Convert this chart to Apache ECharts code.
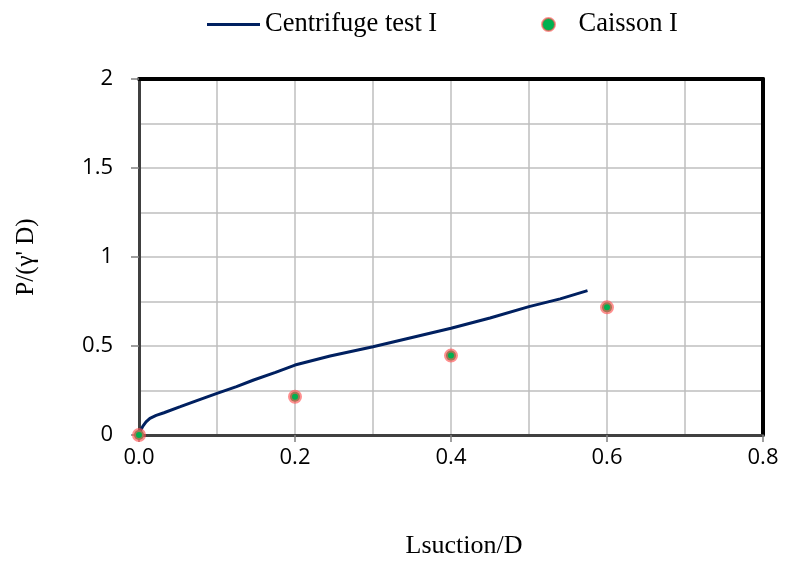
<!DOCTYPE html>
<html><head><meta charset="utf-8">
<script src="https://cdn.jsdelivr.net/npm/echarts@6/dist/echarts.min.js"></script>
<style>html,body{margin:0;padding:0;background:#fff}#c{width:785px;height:563px}</style>
</head><body><div id="c"></div>
<script>
const curveX = [0, 0.002, 0.005, 0.009, 0.014, 0.022, 0.032, 0.053, 0.075, 0.1, 0.125, 0.147, 0.175, 0.2, 0.245, 0.3, 0.35, 0.4, 0.45, 0.5, 0.54, 0.575];
const curveY = [0, 0.025, 0.05, 0.074, 0.094, 0.11, 0.125, 0.159, 0.195, 0.234, 0.272, 0.309, 0.352, 0.393, 0.444, 0.496, 0.548, 0.6, 0.657, 0.721, 0.765, 0.811];
const caissonX = [0, 0.2, 0.4, 0.6];
const caissonY = [0, 0.215, 0.446, 0.717];

const chart = echarts.init(document.getElementById('c'));
const tickFont = {fontFamily: 'Open Sans', fontSize: 22, color: '#000'};
const serif = 'Liberation Serif';
chart.setOption({
  animation: false,
  grid: {left: 139, right: 22, top: 79, bottom: 128, outerBoundsMode: 'none', containLabel: false},
  legend: [
    {data: [{name: 'Centrifuge test I', icon: 'rect'}], left: 202, top: 6, itemWidth: 53, itemHeight: 3,
     textStyle: {fontFamily: serif, fontSize: 26.5, color: '#000'}},
    {data: ['Caisson I'], left: 536, top: 6, itemWidth: 50, itemHeight: 13,
     textStyle: {fontFamily: serif, fontSize: 26.5, color: '#000'}}
  ],
  xAxis: [{
    type: 'value', min: 0, max: 0.8, interval: 0.2,
    name: 'Lsuction/D', nameLocation: 'middle', nameGap: 98,
    nameTextStyle: {fontFamily: serif, fontSize: 26, color: '#000', padding: [0,0,0,26]},
    axisLine: {show: true, onZero: false, lineStyle: {color: '#404040', width: 3}},
    axisTick: {show: true, length: 7, lineStyle: {color: '#808080', width: 1.5}},
    axisLabel: Object.assign({formatter: v => v.toFixed(1), margin: 12}, tickFont),
    splitLine: {show: true, lineStyle: {color: '#bfbfbf', width: 1.5}},
    minorTick: {show: false, splitNumber: 2},
    minorSplitLine: {show: true, lineStyle: {color: '#bfbfbf', width: 1.5}}
  }, {
    type: 'value', position: 'top', min: 0, max: 0.8,
    axisLine: {show: true, onZero: false, lineStyle: {color: '#000', width: 4}},
    axisTick: {show: false}, axisLabel: {show: false}, splitLine: {show: false}
  }],
  yAxis: [{
    type: 'value', min: 0, max: 2, interval: 0.5,
    name: "P/(γ' D)", nameLocation: 'middle', nameGap: 100,
    nameTextStyle: {fontFamily: serif, fontSize: 25, color: '#000'},
    axisLine: {show: true, onZero: false, lineStyle: {color: '#404040', width: 3}},
    axisTick: {show: true, length: 8, lineStyle: {color: '#808080', width: 1.5}},
    axisLabel: Object.assign({formatter: v => String(v), margin: 26}, tickFont),
    splitLine: {show: true, lineStyle: {color: '#bfbfbf', width: 1.5}},
    minorTick: {show: false, splitNumber: 2},
    minorSplitLine: {show: true, lineStyle: {color: '#bfbfbf', width: 1.5}}
  }, {
    type: 'value', position: 'right', min: 0, max: 2,
    axisLine: {show: true, onZero: false, lineStyle: {color: '#000', width: 4}},
    axisTick: {show: false}, axisLabel: {show: false}, splitLine: {show: false}
  }],
  series: [{
    name: 'Centrifuge test I', type: 'line', symbol: 'none', smooth: false,
    lineStyle: {color: '#002060', width: 3}, itemStyle: {color: '#002060'},
    data: curveX.map((x, i) => [x, curveY[i]]), z: 3
  }, {
    name: 'Caisson I', type: 'scatter', symbolSize: 10,
    itemStyle: {color: '#00b050', borderColor: 'rgba(255,85,85,0.65)', borderWidth: 4, opacity: 1},
    data: caissonX.map((x, i) => [x, caissonY[i]]), z: 4
  }]
});
</script></body></html>
